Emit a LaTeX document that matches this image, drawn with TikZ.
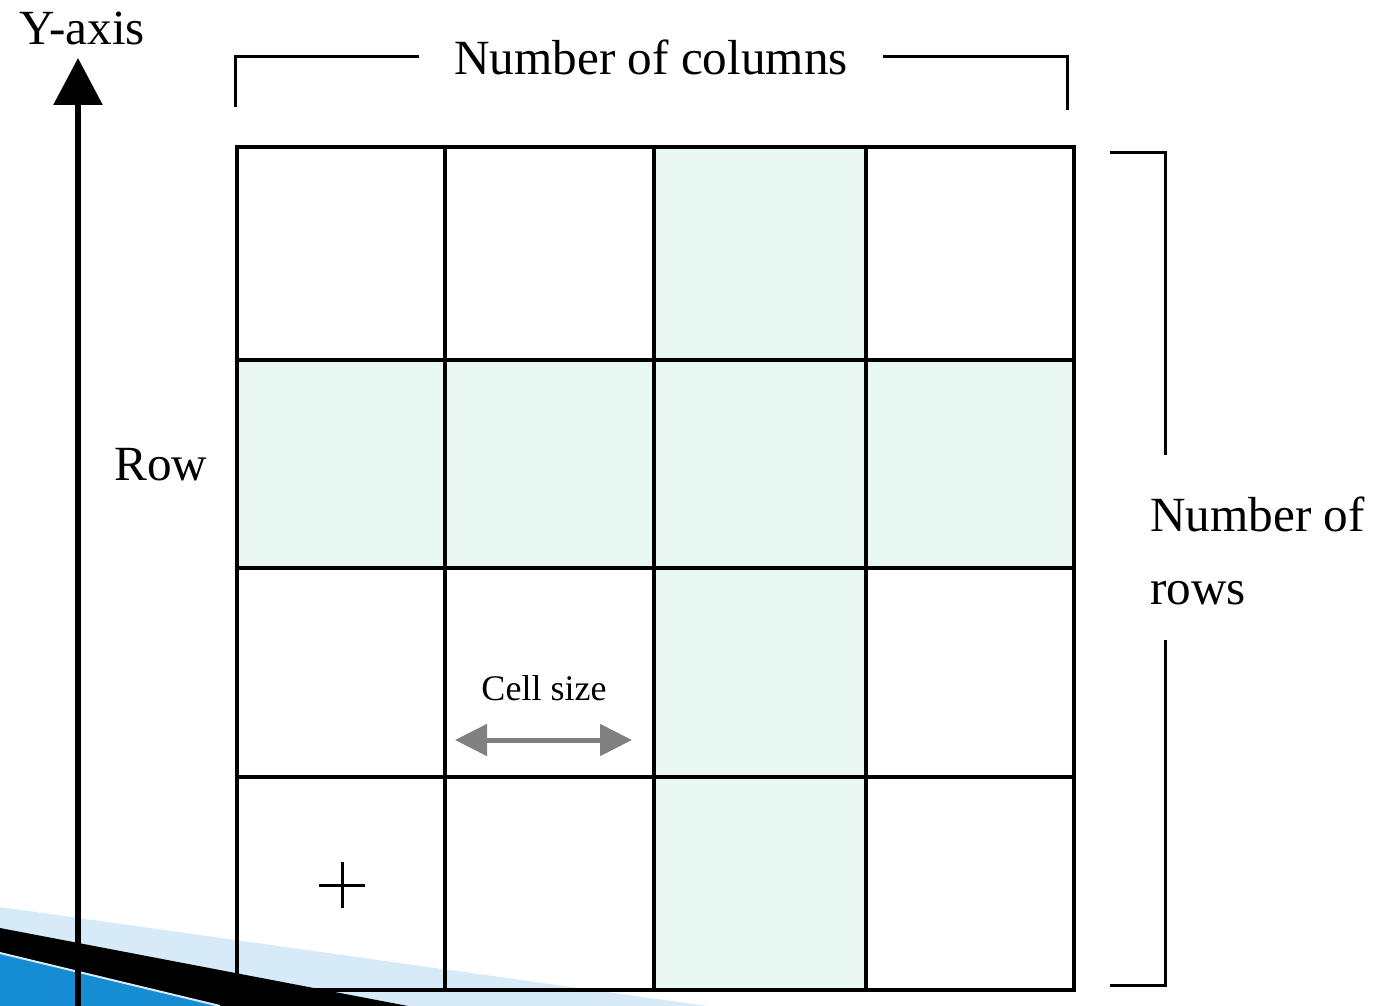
\documentclass[tikz,border=0pt]{standalone}
\usepackage{fontspec}
\setmainfont{Liberation Serif}
\usetikzlibrary{arrows.meta, positioning}

\definecolor{mint}{RGB}{234,248,243}
\definecolor{paleblue}{RGB}{214,234,248}
\definecolor{deepblue}{RGB}{22,140,210}
\definecolor{arrowgray}{RGB}{128,128,128}

\begin{document}
\begin{tikzpicture}[
    x=0.02cm, y=-0.02cm,
    lbl/.style={inner sep=0pt, font=\fontsize{28}{41.5}\selectfont},
    small/.style={inner sep=0pt, font=\fontsize{20.5}{24}\selectfont},
    grid/.style={draw, line width=0.08cm},
    brk/.style={draw, line width=0.06cm},
    axis/.style={draw, line width=0.12cm, -{Triangle[length=0.94cm, width=0.96cm]}},
    cellarr/.style={draw=arrowgray, line width=0.1cm, {Triangle[length=0.64cm, width=0.62cm]}-{Triangle[length=0.64cm, width=0.62cm]}}
]
\useasboundingbox (0,0) rectangle (1381,1006);

% corner swoosh
\begin{scope}
\clip (0,0) rectangle (1381,1006);
\fill[paleblue] (0,907) -- (707,1006) -- (0,1006) -- cycle;
\fill[black] (0,928) -- (408,1006) -- (0,1006) -- cycle;
\fill[deepblue] (0,953) -- (220,1006) -- (0,1006) -- cycle;
\draw[paleblue, line width=0.04cm] (0,953) -- (220,1006);
\end{scope}

% shaded column and row
\fill[mint] (654,147) rectangle (866,990);
\fill[mint] (237,360) rectangle (1074,568);

% grid
\draw[grid] (237,147) rectangle (1074,990);
\foreach \x in {445,654,866}
  \draw[grid] (\x,147) -- (\x,990);
\foreach \y in {360,568,777}
  \draw[grid] (237,\y) -- (1074,\y);

% labels
\node [lbl, anchor=base] (yax) at (82,45) {Y-axis};
\node [lbl, anchor=base] (row) at (161,480) {Row};
\node [lbl, inner xsep=0.7cm] (cols) at (651,57) {Number of columns};
\node [lbl, anchor=north west, align=left] (nrows) at (1150,497) {Number of\\rows};
\node [small, anchor=base] (csize) at (544,700) {Cell size};

\coordinate (ybase) at (78,1010);
\coordinate (ytip) at (78,58);
\coordinate (rtop) at (1165,455);
\coordinate (rbot) at (1165,640);
\coordinate (cl) at (455,740);
\coordinate (cr) at (632,740);
\coordinate (plus) at (342,885);

\path [axis] (ybase) -- (ytip);
\path [brk] (235,107) |- (cols.west);
\path [brk] (1067,110) |- (cols.east);
\path [brk] (1110,153) -| (rtop);
\path [brk] (1110,985) -| (rbot);
\path [cellarr] (cl) -- (cr);

\draw[line width=0.06cm] ([xshift=-0.46cm] plus) -- ([xshift=0.46cm] plus)
  ([yshift=-0.46cm] plus) -- ([yshift=0.46cm] plus);

\end{tikzpicture}
\end{document}
